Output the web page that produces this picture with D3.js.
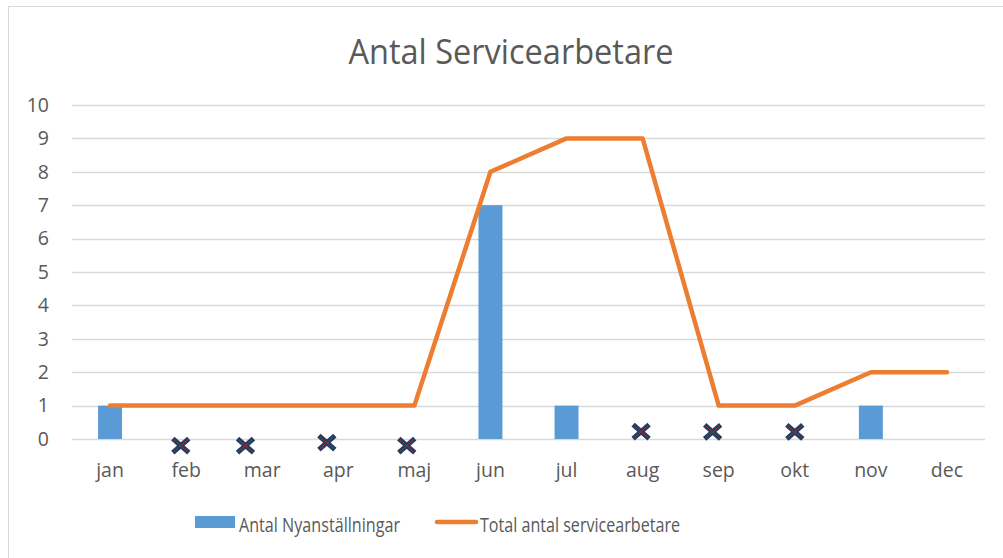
<!DOCTYPE html>
<html>
<head>
<meta charset="utf-8">
<script src="https://cdn.jsdelivr.net/npm/d3@7"></script>
<style>
  body { margin: 0; background: #fff; }
  text { font-family: "Open Sans", "Liberation Sans", sans-serif; fill: #595959; }
</style>
</head>
<body>
<div id="vis"></div>
<script>
// data
var months = ["jan", "feb", "mar", "apr", "maj", "jun", "jul", "aug", "sep", "okt", "nov", "dec"];
var nyanstallningar = [1, 0, 0, 0, 0, 7, 1, 0, 0, 0, 1, 0];
var totalAntal = [1, 1, 1, 1, 1, 8, 9, 9, 1, 1, 2, 2];
var yTicks = [0, 1, 2, 3, 4, 5, 6, 7, 8, 9, 10];
// crossed-out months: month, shift within band, value level
var crossMonths = ["feb", "mar", "apr", "maj", "aug", "sep", "okt"];
var crossShift = [-0.07, -0.22, -0.15, -0.1, -0.02, -0.08, 0];
var crossLevel = [-0.2, -0.2, -0.11, -0.2, 0.22, 0.21, 0.21];

var width = 1003, height = 558;
var margin = { top: 105, left: 72, right: 18, bottom: 119 };

var svg = d3.select("#vis").append("svg")
  .attr("width", width)
  .attr("height", height);

// chart frame
svg.append("rect")
  .attr("x", 8.5).attr("y", 6.5)
  .attr("width", 1000).attr("height", 600)
  .attr("fill", "none")
  .attr("stroke", "#d9d9d9");

var x = d3.scaleBand()
  .domain(months)
  .range([margin.left, width - margin.right]);
var y = d3.scaleLinear()
  .domain([0, 10])
  .range([height - margin.bottom, margin.top]);

// title
svg.append("text")
  .attr("x", 511).attr("y", 64)
  .attr("text-anchor", "middle")
  .attr("textLength", 325)
  .attr("lengthAdjust", "spacingAndGlyphs")
  .style("font-size", "34px")
  .text("Antal Servicearbetare");

// grid
svg.append("g")
  .selectAll("line")
  .data(yTicks)
  .enter().append("line")
  .attr("x1", margin.left).attr("x2", width - margin.right)
  .attr("y1", function(d) { return Math.round(y(d)) + 0.5; })
  .attr("y2", function(d) { return Math.round(y(d)) + 0.5; })
  .attr("stroke", "#d9d9d9")
  .attr("stroke-width", 1.5);

// y axis labels
var yAxis = svg.append("g")
  .attr("transform", "translate(" + (margin.left - 23) + ",0)")
  .call(d3.axisLeft(y).tickValues(yTicks).tickSize(0).tickPadding(0));
yAxis.select(".domain").remove();
yAxis.selectAll("text")
  .attr("fill", "#595959")
  .style("font-size", "19.5px")
  .style("font-family", "'Open Sans', sans-serif");

// x axis labels
var xAxis = svg.append("g")
  .attr("transform", "translate(0," + (y(0) + 24) + ")")
  .call(d3.axisBottom(x).tickSize(0).tickPadding(0));
xAxis.select(".domain").remove();
xAxis.selectAll("text")
  .attr("fill", "#595959")
  .style("font-size", "19.5px")
  .style("font-family", "'Open Sans', sans-serif");

// bars
var barW = x.bandwidth() * 0.315;
svg.append("g")
  .selectAll("rect")
  .data(nyanstallningar)
  .enter().append("rect")
  .attr("x", function(d, i) { return x(months[i]) + x.bandwidth() / 2 - barW / 2; })
  .attr("y", function(d) { return y(d); })
  .attr("width", barW)
  .attr("height", function(d) { return y(0) - y(d); })
  .attr("fill", "#5b9bd5");

// line
var line = d3.line()
  .x(function(d, i) { return x(months[i]) + x.bandwidth() / 2; })
  .y(function(d) { return y(d); });

svg.append("path")
  .datum(totalAntal)
  .attr("fill", "none")
  .attr("stroke", "#ed7d31")
  .attr("stroke-width", 4.5)
  .attr("stroke-linejoin", "round")
  .attr("stroke-linecap", "round")
  .attr("d", line);

// crosses
var cross = svg.append("g")
  .selectAll("g")
  .data(crossMonths)
  .enter().append("g")
  .attr("transform", function(d, i) {
    var cx = x(d) + x.bandwidth() * (0.5 + crossShift[i]);
    return "translate(" + cx + "," + y(crossLevel[i]) + ")";
  });
cross.append("path")
  .attr("d", "M-8,-7L8,7M-8,7L8,-7")
  .attr("stroke", "#203f5e")
  .attr("stroke-width", 5);
cross.append("path")
  .attr("d", "M-7,-6L7,6M-7,6L7,-6")
  .attr("stroke", "#a0283a")
  .attr("stroke-width", 1);

// legend
var legend = svg.append("g");
legend.append("rect")
  .attr("x", 195).attr("y", 516)
  .attr("width", 40).attr("height", 12)
  .attr("fill", "#5b9bd5");
legend.append("text")
  .attr("x", 239).attr("y", 532)
  .attr("textLength", 161)
  .attr("lengthAdjust", "spacingAndGlyphs")
  .style("font-size", "20px")
  .text("Antal Nyanställningar");
legend.append("line")
  .attr("x1", 437).attr("x2", 476)
  .attr("y1", 522).attr("y2", 522)
  .attr("stroke", "#ed7d31")
  .attr("stroke-width", 4.5)
  .attr("stroke-linecap", "round");
legend.append("text")
  .attr("x", 480).attr("y", 532)
  .attr("textLength", 200)
  .attr("lengthAdjust", "spacingAndGlyphs")
  .style("font-size", "20px")
  .text("Total antal servicearbetare");
</script>
</body>
</html>
